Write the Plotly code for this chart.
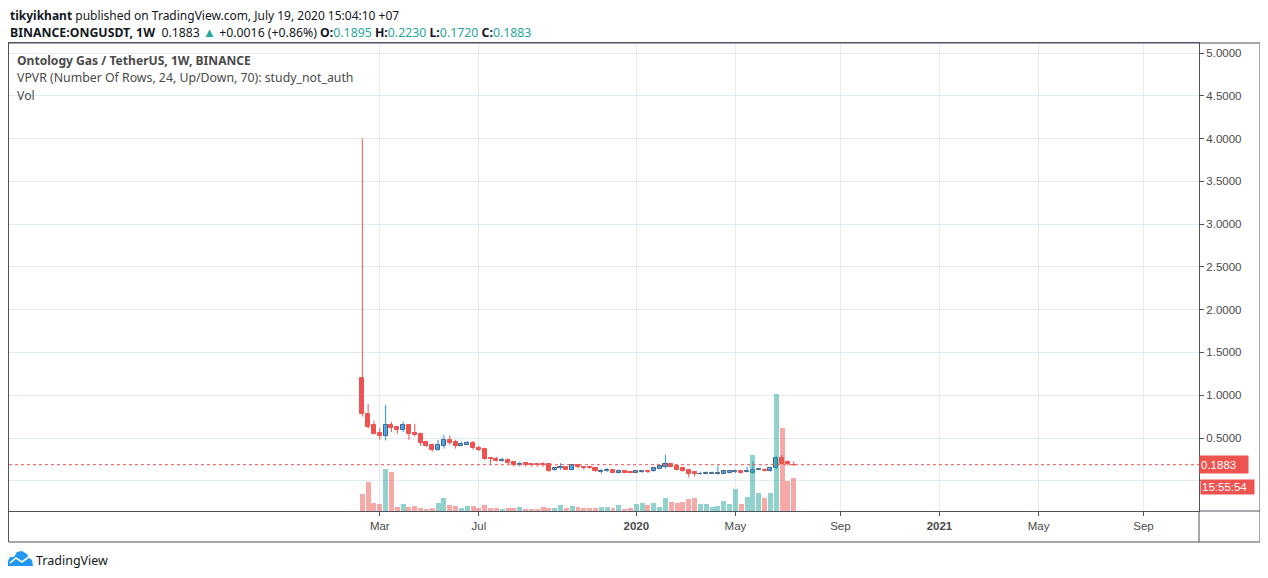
import pandas as pd
import plotly.graph_objects as go

# weekly ONG/USDT candles, Binance
first_week = "2019-02-11"
opens = [
    1.203, 0.783, 0.654, 0.564, 0.518, 0.654, 0.631, 0.596, 0.654, 0.561,
    0.549, 0.456, 0.421, 0.362, 0.409, 0.479, 0.456, 0.412, 0.424, 0.444,
    0.386, 0.374, 0.265, 0.257, 0.226, 0.245, 0.222, 0.187, 0.210, 0.199,
    0.191, 0.195, 0.191, 0.121, 0.144, 0.160, 0.132, 0.179, 0.160, 0.164,
    0.152, 0.105, 0.109, 0.128, 0.097, 0.117, 0.105, 0.097, 0.105, 0.117,
    0.109, 0.140, 0.167, 0.202, 0.175, 0.144, 0.121, 0.101, 0.074, 0.078,
    0.085, 0.085, 0.085, 0.097, 0.101, 0.109, 0.105, 0.097, 0.132, 0.132,
    0.117, 0.144, 0.265, 0.214, 0.1895,
]
highs = [
    4.000, 0.900, 0.701, 0.616, 0.888, 0.689, 0.631, 0.693, 0.654, 0.666,
    0.564, 0.456, 0.432, 0.479, 0.537, 0.526, 0.479, 0.456, 0.467, 0.467,
    0.409, 0.386, 0.272, 0.280, 0.269, 0.261, 0.222, 0.222, 0.210, 0.199,
    0.202, 0.218, 0.195, 0.152, 0.206, 0.168, 0.187, 0.183, 0.164, 0.164,
    0.152, 0.140, 0.152, 0.128, 0.132, 0.117, 0.105, 0.121, 0.128, 0.117,
    0.156, 0.179, 0.304, 0.206, 0.179, 0.156, 0.132, 0.117, 0.105, 0.109,
    0.109, 0.175, 0.113, 0.128, 0.132, 0.113, 0.163, 0.230, 0.152, 0.144,
    0.167, 0.292, 0.304, 0.237, 0.2230,
]
lows = [
    0.751, 0.611, 0.541, 0.479, 0.471, 0.572, 0.549, 0.572, 0.479, 0.518,
    0.409, 0.394, 0.339, 0.350, 0.377, 0.417, 0.377, 0.401, 0.417, 0.362,
    0.347, 0.245, 0.199, 0.226, 0.222, 0.195, 0.167, 0.167, 0.167, 0.167,
    0.164, 0.164, 0.105, 0.117, 0.128, 0.128, 0.120, 0.144, 0.128, 0.140,
    0.105, 0.082, 0.105, 0.089, 0.082, 0.089, 0.089, 0.093, 0.093, 0.089,
    0.105, 0.136, 0.144, 0.160, 0.120, 0.105, 0.039, 0.050, 0.070, 0.074,
    0.082, 0.070, 0.082, 0.085, 0.089, 0.085, 0.097, 0.082, 0.128, 0.109,
    0.105, 0.136, 0.199, 0.175, 0.1720,
]
closes = [
    0.775, 0.634, 0.549, 0.518, 0.654, 0.619, 0.596, 0.654, 0.549, 0.541,
    0.447, 0.409, 0.362, 0.417, 0.479, 0.444, 0.409, 0.432, 0.444, 0.382,
    0.362, 0.249, 0.253, 0.237, 0.245, 0.210, 0.179, 0.202, 0.179, 0.179,
    0.179, 0.179, 0.117, 0.148, 0.156, 0.132, 0.183, 0.156, 0.148, 0.144,
    0.109, 0.117, 0.128, 0.093, 0.117, 0.093, 0.093, 0.117, 0.117, 0.105,
    0.152, 0.175, 0.199, 0.167, 0.132, 0.109, 0.085, 0.074, 0.082, 0.093,
    0.097, 0.093, 0.109, 0.109, 0.113, 0.097, 0.113, 0.128, 0.140, 0.120,
    0.148, 0.265, 0.202, 0.195, 0.1883,
]
# volume, millions of ONG
volume_m = [
    1.7, 2.9, 0.8, 0.7, 4.2, 3.9, 0.4, 0.7, 0.4, 0.5,
    0.3, 0.2, 0.3, 0.8, 1.3, 0.6, 0.5, 0.3, 0.5, 0.5,
    0.3, 0.6, 0.3, 0.3, 0.2, 0.3, 0.3, 0.4, 0.2, 0.2,
    0.2, 0.4, 0.3, 0.3, 0.6, 0.3, 0.5, 0.4, 0.3, 0.3,
    0.3, 0.4, 0.4, 0.3, 0.6, 0.2, 0.3, 0.7, 0.8, 0.6,
    0.8, 0.4, 1.3, 0.9, 0.8, 0.9, 1.2, 1.3, 0.7, 0.7,
    0.4, 0.5, 1.0, 0.7, 2.2, 0.7, 1.4, 5.6, 1.8, 1.3,
    1.8, 11.7, 8.3, 3.0, 3.3,
]
last_price = 0.1883
countdown = "15:55:54"

tick_dates = ["2019-03-04", "2019-07-01", "2020-01-06", "2020-05-04",
              "2020-09-07", "2021-01-04", "2021-05-03", "2021-09-06"]
tick_labels = ["Mar", "Jul", "<b>2020</b>", "May", "Sep", "<b>2021</b>", "May", "Sep"]
price_ticks = [0.0, 0.5, 1.0, 1.5, 2.0, 2.5, 3.0, 3.5, 4.0, 4.5, 5.0]

RED = "#ef5350"
BLUE = "#2196f3"
UP_FILL = "#64aaf0"
UP_EDGE = "#535d6b"
FRAME = "#50535e"
GRID = "#e1ecf2"
TEXT = "#4a4a4a"

# the page puts the figure 8px in from the window corner
OFF = 8
W, H = 1268 - OFF, 578 - OFF
L, R, T, B = 9, 1199, 43, 511  # plot area in window pixels


def px(x):
    return (x - L) / (R - L)


def py(y):
    return (B - y) / (B - T)


def week_at(x):
    # first candle sits at x=362.3, one week every 5.83px
    return pd.Timestamp(first_week) + pd.Timedelta(weeks=(x - 362.3) / 5.83)


weeks = pd.date_range(first_week, periods=len(opens), freq="W-MON")
up = [c >= o for o, c in zip(opens, closes)]
week_ms = 7 * 24 * 3600 * 1000

fig = go.Figure()

fig.add_trace(go.Bar(
    x=weeks, y=volume_m, yaxis="y2", width=0.85 * week_ms,
    marker_color=["rgba(38,166,154,0.5)" if u else "rgba(239,83,80,0.5)" for u in up],
    marker_line_width=0, hoverinfo="skip",
))

for is_up, colour in [(True, BLUE), (False, RED)]:
    wx, wy = [], []
    for d, h, lo, u in zip(weeks, highs, lows, up):
        if u == is_up:
            wx += [d, d, None]
            wy += [lo, h, None]
    fig.add_trace(go.Scatter(x=wx, y=wy, mode="lines", line=dict(color=colour, width=1),
                             hoverinfo="skip"))

for is_up in (True, False):
    idx = [i for i, u in enumerate(up) if u == is_up]
    fig.add_trace(go.Bar(
        x=[weeks[i] for i in idx],
        y=[max(abs(closes[i] - opens[i]), 0.002) for i in idx],
        base=[min(opens[i], closes[i]) for i in idx],
        width=0.7 * week_ms,
        marker=dict(color=UP_FILL if is_up else RED,
                    line=dict(color=UP_EDGE if is_up else RED, width=1)),
        hoverinfo="skip",
    ))

shapes = [
    dict(type="line", xref="paper", yref="y", x0=0, x1=1, y0=last_price, y1=last_price,
         line=dict(color=RED, width=1, dash="dot")),
    dict(type="rect", xref="paper", yref="paper", x0=px(8.5), x1=px(1260), y0=py(542), y1=py(43),
         line=dict(color=FRAME, width=1)),
    dict(type="line", xref="paper", yref="paper", x0=px(1199), x1=px(1260), y0=0, y1=0,
         line=dict(color=FRAME, width=1)),
    dict(type="line", xref="paper", yref="paper", x0=px(1199), x1=px(1199), y0=py(542), y1=0,
         line=dict(color=FRAME, width=1)),
]

# TradingView logo (cloud with zigzag)
cloud = [(8, 566), (8, 561), (10, 557), (14, 557), (17, 552), (22, 551), (27, 554),
         (29, 558), (32, 560), (33, 566)]
shapes.append(dict(type="path", xref="paper", yref="paper", fillcolor=BLUE, line=dict(width=0),
                   path="M" + " L".join(f"{px(a):.5f},{py(b):.5f}" for a, b in cloud) + " Z"))
zig = [(10, 563), (16, 558), (22, 562), (30, 556)]
shapes.append(dict(type="path", xref="paper", yref="paper", line=dict(color="white", width=1.6),
                   path="M" + " L".join(f"{px(a):.5f},{py(b):.5f}" for a, b in zig)))

teal = "#26a69a"
header1 = "<b>tikyikhant</b> published on TradingView.com, July 19, 2020 15:04:10 +07"
header2 = (f"<b>BINANCE:ONGUSDT, 1W</b>  {closes[-1]:.4f} "
           f"<span style='color:{teal};font-size:13px'>▲</span> "
           f"+0.0016 (+0.86%) <b>O:</b><span style='color:{teal}'>{opens[-1]:.4f}</span> "
           f"<b>H:</b><span style='color:{teal}'>{highs[-1]:.4f}</span> "
           f"<b>L:</b><span style='color:{teal}'>{lows[-1]:.4f}</span> "
           f"<b>C:</b><span style='color:{teal}'>{closes[-1]:.4f}</span>")

font = "Noto Sans, Open Sans, sans-serif"
annotations = [
    dict(text=header1, x=px(8), y=py(16), font=dict(size=12, color="#131722")),
    dict(text=header2, x=px(8), y=py(32), font=dict(size=12.3, color="#131722")),
    dict(text="<b>Ontology Gas / TetherUS, 1W, BINANCE</b>", x=px(15), y=py(61),
         font=dict(size=12.1, color=TEXT)),
    dict(text="VPVR (Number Of Rows, 24, Up/Down, 70): study_not_auth", x=px(15), y=py(78),
         font=dict(size=12.3, color=TEXT)),
    dict(text="Vol", x=px(15), y=py(95), font=dict(size=12.3, color=TEXT)),
    dict(text="TradingView", x=px(34), y=py(560), font=dict(size=12.5, color="#131722")),
]
for a in annotations:
    a.update(xref="paper", yref="paper", xanchor="left", yanchor="middle", showarrow=False)

annotations += [
    dict(text=f"{last_price:.4f}", xref="paper", yref="y", x=1, y=last_price,
         xanchor="left", yanchor="middle", showarrow=False, bgcolor=RED, width=46, height=15,
         align="left", borderpad=1, font=dict(family="Liberation Sans", size=11.5, color="white")),
    dict(text=countdown, xref="paper", yref="paper", x=px(1200), y=py(487),
         xanchor="left", yanchor="middle", showarrow=False, bgcolor=RED, width=51, height=12,
         align="left", borderpad=1, font=dict(family="Liberation Sans", size=11.5, color="white")),
]

fig.update_layout(
    width=W, height=H,
    margin=dict(l=L - OFF, r=1268 - R, t=T - OFF, b=578 - B),
    paper_bgcolor="white", plot_bgcolor="white",
    font=dict(family=font, color=TEXT),
    showlegend=False, barmode="overlay", bargap=0,
    shapes=shapes, annotations=annotations,
    xaxis=dict(
        type="date", range=[week_at(L), week_at(R)], tickvals=tick_dates, ticktext=tick_labels,
        showgrid=True, gridcolor=GRID, gridwidth=1, zeroline=False,
        showline=True, linecolor=FRAME, mirror=True,
        ticks="outside", ticklen=4, tickcolor=FRAME,
        tickfont=dict(family="Liberation Sans", size=11.5, color=TEXT),
    ),
    yaxis=dict(
        side="right", range=[-0.353, 5.117], tickvals=price_ticks,
        ticktext=["" if v == 0 else f"{v:.4f}" for v in price_ticks],
        showgrid=True, gridcolor=GRID, gridwidth=1, zeroline=False,
        showline=True, linecolor=FRAME, mirror=True,
        ticks="outside", ticklen=4, tickcolor=FRAME,
        tickfont=dict(family="Liberation Sans", size=11.5, color=TEXT),
    ),
    yaxis2=dict(overlaying="y", range=[0, max(volume_m) * 4.0], visible=False),
)

fig.write_html("out.html")
